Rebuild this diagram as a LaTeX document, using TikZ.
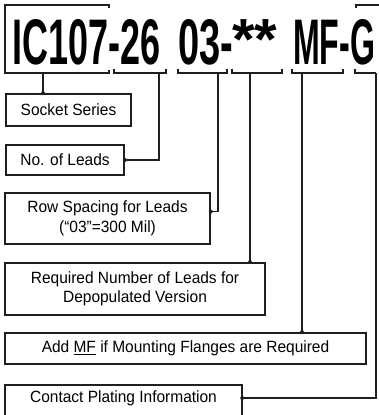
\documentclass[tikz,border=0pt]{standalone}
\usepackage{fontspec}
\setmainfont{Liberation Sans}
\newfontfamily\boxfont[FakeStretch=0.95]{Liberation Sans}
\usetikzlibrary{positioning,calc}

\begin{document}
\begin{tikzpicture}[x=1pt,y=-1pt,
    box/.style={draw=black!88,line width=1.6pt,inner sep=0pt,align=center,
      font=\boxfont\fontsize{16.3}{19.5}\selectfont},
    brk/.style={draw=black!88,line width=1.3pt},
    conn/.style={draw=black!88,line width=1.3pt},
    dot/.style={fill=black!88}]
  \useasboundingbox (0,0) rectangle (378,415);

  % part number
  \node[anchor=south west,inner sep=0pt] (pnA) at (12,65) {\resizebox{148pt}{45pt}{\bfseries IC107-26}};
  \node[anchor=south west,inner sep=0pt] (pnB) at (178,65) {\resizebox{55pt}{45pt}{\bfseries 03-}};
  \node[anchor=north,inner sep=0pt,font=\fontsize{58}{58}\selectfont\bfseries] (pnC) at (255,19) {**};
  \node[anchor=south west,inner sep=0pt] (pnD) at (293,65) {\resizebox{82pt}{45pt}{\bfseries MF-G}};

  % brackets
  \draw[brk] (109,8) -- (109,5) -- (5,5) -- (5,73) -- (109,73) -- (109,70);
  \foreach \a/\b in {114/166,178/227,232/282,292/343}
    \draw[brk] (\a,69) -- (\a,73) -- (\b,73) -- (\b,69);
  \draw[brk] (382,5) -- (356,5) -- (356,8);
  \draw[brk] (355,69) -- (355,73) -- (376,73);

  \coordinate (bIC) at (43,73);
  \coordinate (b26) at (159,73);
  \coordinate (b03) at (218,73);
  \coordinate (bST) at (250,73);
  \coordinate (bMF) at (302,73);
  \coordinate (bG)  at (376,73);

  % description boxes
  \node[box,minimum width=125,minimum height=32] (socket) at (68.5,110) {Socket Series};
  \node[box,minimum width=118,minimum height=30] (leads) at (65,160) {No. of Leads};
  \node[box,minimum width=205,minimum height=51] (spacing) at (107.5,218.5)
    {Row Spacing for Leads\\(“03”=300 Mil)};
  \node[box,minimum width=260,minimum height=52] (depop) at (135,289)
    {Required Number of Leads for\\Depopulated Version};
  \node[box,minimum width=361,minimum height=31] (flange) at (185.5,348.5)
    {Add \underline{MF} if Mounting Flanges are Required};
  \draw[draw=black!88,line width=1.6pt] (5,385) rectangle (242,430);
  \node[inner sep=0pt,minimum width=237,font=\boxfont\fontsize{16.3}{19.5}\selectfont] (plating) at (123.5,398)
    {Contact Plating Information};

  % connectors
  \coordinate (spacingR) at ($(spacing.north east)!0.37!(spacing.south east)$);
  \draw[conn] (bIC) -- (bIC |- socket.north);
  \draw[conn] (b26) |- (leads.east);
  \draw[conn] (b03) |- (spacingR);
  \draw[conn] (bST) -- (bST |- depop.north);
  \draw[conn] (bMF) -- (bMF |- flange.north);
  \draw[conn] (bG) |- (plating.east);

  \fill[dot] (bIC |- socket.north) circle[radius=2];
  \fill[dot] (leads.east) circle[radius=2];
  \fill[dot] (spacingR) circle[radius=2];
  \fill[dot] (bST |- depop.north) circle[radius=2];
  \fill[dot] (bMF |- flange.north) circle[radius=2];
  \fill[dot] (plating.east) circle[radius=2];
\end{tikzpicture}
\end{document}
